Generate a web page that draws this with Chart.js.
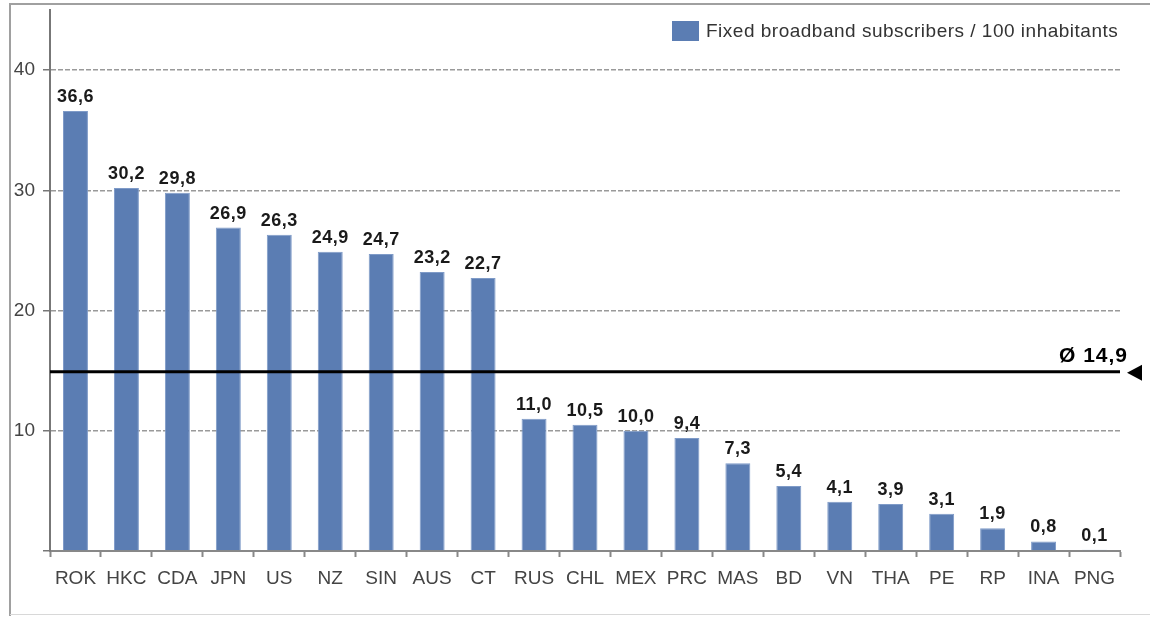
<!DOCTYPE html>
<html>
<head>
<meta charset="utf-8">
<script src="https://cdn.jsdelivr.net/npm/chart.js@4.4.0/dist/chart.umd.min.js"></script>
<style>
  html, body { margin: 0; padding: 0; background: #fff; }
  #wrap { width: 1150px; height: 617px; position: relative; }
</style>
</head>
<body>
<div id="wrap"><canvas id="chart"></canvas></div>
<script>
var countries = ["ROK", "HKC", "CDA", "JPN", "US", "NZ", "SIN", "AUS", "CT", "RUS", "CHL",
                 "MEX", "PRC", "MAS", "BD", "VN", "THA", "PE", "RP", "INA", "PNG"];
var subscribers = [36.6, 30.2, 29.8, 26.9, 26.3, 24.9, 24.7, 23.2, 22.7, 11.0, 10.5,
                   10.0, 9.4, 7.3, 5.4, 4.1, 3.9, 3.1, 1.9, 0.8, 0.1];
var average = 14.9;
var yTicks = [0, 10, 20, 30, 40];
var seriesName = "Fixed broadband subscribers / 100 inhabitants";

var barColor = '#5b7db3';
var fontFamily = '"Liberation Sans", Arial, sans-serif';

function comma(v) {
    return v.toFixed(1).replace('.', ',');
}

// frame, legend, value labels and average line
var extras = {
    id: 'extras',
    beforeDraw: function(chart) {
        var ctx = chart.ctx;
        ctx.save();
        ctx.fillStyle = '#fff';
        ctx.fillRect(0, 0, chart.width, chart.height);
        ctx.strokeStyle = '#a0a0a0';
        ctx.lineWidth = 2;
        ctx.beginPath();
        ctx.moveTo(10, 616);
        ctx.lineTo(10, 4);
        ctx.lineTo(1150, 4);
        ctx.stroke();
        ctx.strokeStyle = '#d8d8d8';
        ctx.lineWidth = 1;
        ctx.beginPath();
        ctx.moveTo(10, 614.5);
        ctx.lineTo(1150, 614.5);
        ctx.stroke();
        ctx.restore();
    },
    afterDatasetsDraw: function(chart) {
        var ctx = chart.ctx;
        var meta = chart.getDatasetMeta(0);
        var y = chart.scales.y;
        var area = chart.chartArea;
        ctx.save();

        // value labels
        ctx.font = 'bold 18px ' + fontFamily;
        ctx.letterSpacing = '0.5px';
        ctx.fillStyle = '#1a1a1a';
        ctx.textAlign = 'center';
        ctx.textBaseline = 'bottom';
        meta.data.forEach(function(bar, i) {
            ctx.fillText(comma(subscribers[i]), bar.x, bar.y - 5);
        });

        // average line
        var ay = y.getPixelForValue(average);
        ctx.strokeStyle = '#000';
        ctx.lineWidth = 3;
        ctx.beginPath();
        ctx.moveTo(area.left, ay);
        ctx.lineTo(area.right, ay);
        ctx.stroke();
        ctx.fillStyle = '#000';
        ctx.beginPath();
        ctx.moveTo(area.right + 7, ay + 1);
        ctx.lineTo(area.right + 22, ay - 7);
        ctx.lineTo(area.right + 22, ay + 9);
        ctx.closePath();
        ctx.fill();
        ctx.font = 'bold 21px ' + fontFamily;
        ctx.letterSpacing = '1px';
        ctx.textAlign = 'right';
        ctx.textBaseline = 'bottom';
        ctx.fillText('\u00d8 ' + comma(average), area.right + 8, ay - 5);

        // legend
        ctx.fillStyle = barColor;
        ctx.fillRect(672, 21, 27, 20);
        ctx.font = '19px ' + fontFamily;
        ctx.letterSpacing = '0.5px';
        ctx.fillStyle = '#333';
        ctx.textAlign = 'left';
        ctx.textBaseline = 'middle';
        ctx.fillText(seriesName, 706, 32);
        ctx.restore();
    }
};

new Chart(document.getElementById('chart'), {
    type: 'bar',
    data: {
        labels: countries,
        datasets: [{
            label: seriesName,
            data: subscribers,
            backgroundColor: barColor,
            borderColor: '#7f9bc8',
            borderWidth: 1,
            barPercentage: 0.49,
            categoryPercentage: 1
        }]
    },
    options: {
        responsive: true,
        maintainAspectRatio: false,
        animation: false,
        layout: { padding: { left: 0, right: 30, top: 10, bottom: 0 } },
        plugins: {
            legend: { display: false },
            tooltip: { enabled: false }
        },
        scales: {
            x: {
                offset: true,
                grid: {
                    offset: true,
                    drawOnChartArea: false,
                    drawTicks: true,
                    tickLength: 6,
                    tickColor: '#888',
                    tickWidth: 2
                },
                border: { color: '#888', width: 2 },
                ticks: {
                    color: '#444',
                    padding: 10,
                    maxRotation: 0,
                    autoSkip: false,
                    font: { family: fontFamily, size: 19 }
                },
                afterFit: function(scale) {
                    scale.height = 66;
                    scale.paddingLeft = 0;
                    scale.paddingRight = 0;
                }
            },
            y: {
                min: 0,
                max: 45,
                afterBuildTicks: function(scale) {
                    scale.ticks = yTicks.map(function(v) { return { value: v }; });
                },
                grid: {
                    color: function(c) { return c.tick && c.tick.value === 0 ? 'rgba(0,0,0,0)' : '#9a9a9a'; },
                    lineWidth: 1.5,
                    tickLength: 7,
                    tickColor: '#777',
                    tickWidth: 1.5
                },
                border: { color: '#777', width: 2, dash: [5, 2] },
                ticks: {
                    color: '#444',
                    padding: 8,
                    font: { family: fontFamily, size: 19 },
                    callback: function(v) { return v === 0 ? '' : v; }
                },
                afterFit: function(scale) {
                    scale.width = 50;
                    scale.paddingTop = 0;
                    scale.paddingBottom = 0;
                }
            }
        }
    },
    plugins: [extras]
});
</script>
</body>
</html>
